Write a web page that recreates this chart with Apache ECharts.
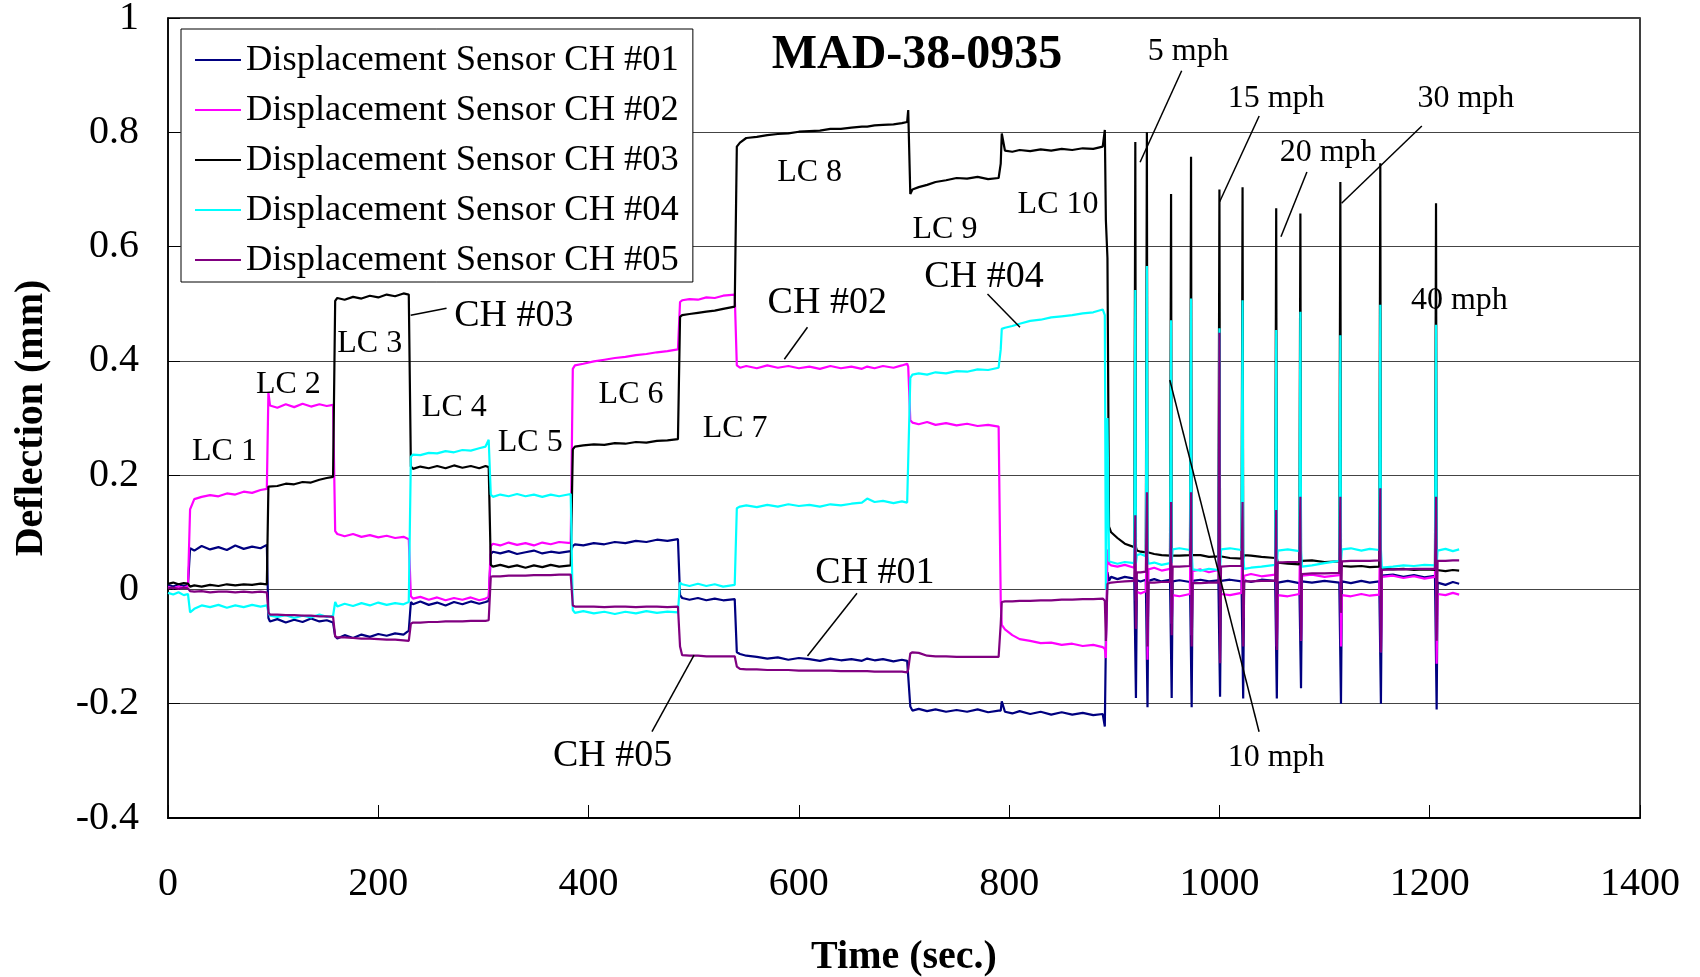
<!DOCTYPE html>
<html><head><meta charset="utf-8">
<script src="https://cdn.jsdelivr.net/npm/echarts@6/dist/echarts.min.js"></script>
<style>html,body{margin:0;padding:0;background:#fff}#c{width:1700px;height:977px}</style>
</head><body><div id="c"></div>
<script>
// ---------------- DATA ----------------
const time = [
 0,5,10,15,19,
 21,25,32,40,48,56,64,72,80,88,94,
 95.5,97,104,112,120,128,136,144,151,157,
 159,161,168,176,184,192,200,208,216,224,229,
 231,233,240,248,256,264,272,280,288,296,302,305,
 307,309,316,324,332,340,348,356,364,372,383,
 385,387,395,405,415,425,435,445,455,465,475,485,
 487,489,496,504,512,520,528,539,
 541,544,550,560,570,580,590,600,610,620,630,640,650,660,665,672,680,690,698,703,704,
 706,708,714,722,730,740,750,760,770,780,790,
 792,793,796,803,810,820,830,840,850,860,870,880,889,891,
 892,893.5,895,897,903,910,919,
 920,920.6,921.5,925,930,
 931,931.6,932.5,938,945,953,
 954,954.6,955.5,962,972,
 973,973.6,974.5,982,990,999,
 1000,1000.6,1001.5,1010,1021,
 1022,1022.6,1023.5,1030,1040,1053,
 1054,1054.6,1055.5,1065,1076,
 1077,1077.6,1078.5,1088,1100,1114,
 1115,1115.6,1116.5,1125,1135,1143,1152,
 1153,1153.6,1154.5,1165,1175,1185,1195,1205,
 1206,1206.6,1207.5,1215,1222,1228
];
const ch01 = [
 0.008,0.005,0.009,0.006,0.008,
 0.072,0.068,0.076,0.070,0.074,0.069,0.077,0.071,0.075,0.072,0.078,
 -0.050,-0.056,-0.052,-0.058,-0.053,-0.057,-0.051,-0.056,-0.054,-0.058,
 -0.082,-0.086,-0.080,-0.085,-0.079,-0.083,-0.078,-0.081,-0.077,-0.079,-0.072,
 -0.022,-0.026,-0.021,-0.027,-0.023,-0.028,-0.022,-0.026,-0.021,-0.025,-0.022,-0.020,
 0.062,0.066,0.063,0.067,0.062,0.065,0.068,0.063,0.066,0.064,0.067,
 0.076,0.079,0.077,0.081,0.079,0.083,0.081,0.085,0.083,0.087,0.085,0.088,
 -0.010,-0.015,-0.018,-0.015,-0.019,-0.016,-0.019,-0.017,
 -0.110,-0.113,-0.116,-0.118,-0.121,-0.119,-0.123,-0.120,-0.122,-0.125,-0.121,-0.124,-0.122,-0.125,-0.121,-0.124,-0.122,-0.126,-0.123,-0.125,-0.127,
 -0.205,-0.212,-0.209,-0.213,-0.210,-0.214,-0.211,-0.214,-0.210,-0.215,-0.212,
 -0.212,-0.196,-0.214,-0.217,-0.213,-0.218,-0.214,-0.219,-0.215,-0.219,-0.216,-0.220,-0.218,-0.240,
 -0.090,0.030,0.015,0.022,0.018,0.022,0.019,
 0.019,-0.190,0.016,0.014,0.017,
 0.017,-0.206,0.015,0.018,0.014,0.017,
 0.017,-0.190,0.014,0.016,0.013,
 0.013,-0.206,0.015,0.017,0.014,0.016,
 0.016,-0.188,0.015,0.017,0.014,
 0.014,-0.191,0.016,0.013,0.017,0.015,
 0.015,-0.191,0.012,0.015,0.011,
 0.011,-0.173,0.014,0.012,0.015,0.012,
 0.012,-0.200,0.014,0.011,0.015,0.012,0.014,
 0.014,-0.200,0.024,0.026,0.022,0.025,0.021,0.024,
 0.024,-0.210,0.012,0.008,0.013,0.010
];
const ch02 = [
 0.004,0.002,0.005,0.003,0.006,
 0.140,0.158,0.162,0.165,0.163,0.168,0.166,0.171,0.169,0.174,0.176,
 0.345,0.322,0.318,0.324,0.319,0.325,0.320,0.324,0.321,0.323,
 0.102,0.097,0.093,0.097,0.092,0.095,0.091,0.094,0.090,0.092,0.088,
 -0.012,-0.016,-0.013,-0.018,-0.014,-0.019,-0.015,-0.018,-0.014,-0.019,-0.016,-0.013,
 0.076,0.080,0.077,0.082,0.078,0.081,0.077,0.082,0.079,0.083,0.081,
 0.386,0.392,0.395,0.399,0.402,0.405,0.407,0.410,0.412,0.415,0.417,0.420,
 0.503,0.506,0.508,0.507,0.511,0.510,0.514,0.516,
 0.392,0.388,0.391,0.387,0.392,0.388,0.391,0.387,0.390,0.386,0.391,0.387,0.390,0.386,0.390,0.387,0.391,0.388,0.392,0.395,0.390,
 0.296,0.292,0.289,0.293,0.288,0.291,0.287,0.290,0.286,0.288,0.285,
 -0.020,-0.062,-0.070,-0.080,-0.087,-0.090,-0.094,-0.093,-0.097,-0.095,-0.099,-0.097,-0.101,-0.104,
 -0.120,0.070,0.045,0.042,0.040,0.043,0.038,
 0.113,-0.020,-0.004,-0.007,-0.003,
 0.120,-0.123,0.035,0.038,0.033,0.036,
 0.150,-0.060,-0.010,-0.012,-0.008,
 0.350,-0.080,0.032,0.035,0.030,0.034,
 0.120,-0.030,-0.008,-0.010,-0.006,
 0.120,-0.050,0.024,0.027,0.023,0.026,
 0.120,-0.100,-0.010,-0.012,-0.008,
 0.120,-0.090,0.024,0.026,0.022,0.025,
 0.120,-0.100,-0.010,-0.012,-0.008,-0.011,-0.009,
 0.130,-0.110,0.022,0.024,0.020,0.023,0.019,0.022,
 0.140,-0.130,-0.008,-0.010,-0.006,-0.009
];
const ch03 = [
 0.010,0.012,0.009,0.011,0.010,
 0.005,0.007,0.005,0.008,0.006,0.009,0.007,0.009,0.008,0.010,0.009,
 0.180,0.183,0.181,0.185,0.184,0.188,0.187,0.192,0.195,0.197,
 0.505,0.510,0.507,0.512,0.509,0.514,0.511,0.516,0.513,0.518,0.516,
 0.215,0.211,0.215,0.212,0.216,0.212,0.217,0.213,0.216,0.212,0.216,0.214,
 0.043,0.040,0.043,0.039,0.042,0.038,0.042,0.039,0.043,0.040,0.042,
 0.245,0.250,0.252,0.254,0.253,0.256,0.255,0.258,0.257,0.260,0.261,0.263,
 0.477,0.480,0.482,0.484,0.486,0.488,0.491,0.495,
 0.775,0.782,0.790,0.792,0.795,0.797,0.798,0.801,0.802,0.803,0.806,0.806,0.808,0.810,0.810,0.812,0.813,0.814,0.816,0.818,0.839,
 0.692,0.700,0.704,0.708,0.713,0.716,0.720,0.719,0.722,0.718,0.720,
 0.745,0.798,0.768,0.766,0.769,0.767,0.770,0.768,0.771,0.769,0.772,0.771,0.775,0.804,
 0.646,0.580,0.110,0.100,0.090,0.080,0.074,
 0.783,0.074,0.068,0.066,0.065,
 0.800,0.065,0.063,0.062,0.060,0.059,
 0.692,0.059,0.060,0.059,0.060,
 0.757,0.060,0.059,0.060,0.057,0.058,
 0.700,0.058,0.056,0.055,0.054,
 0.704,0.054,0.060,0.059,0.057,0.055,
 0.667,0.055,0.047,0.045,0.044,
 0.658,0.044,0.050,0.051,0.048,0.049,
 0.713,0.049,0.041,0.040,0.041,0.039,0.040,
 0.746,0.040,0.036,0.035,0.036,0.034,0.035,0.034,
 0.676,0.034,0.033,0.032,0.034,0.033
];
const ch04 = [
 -0.006,-0.009,-0.005,-0.010,-0.008,
 -0.040,-0.034,-0.028,-0.031,-0.027,-0.032,-0.028,-0.031,-0.027,-0.030,-0.028,
 -0.040,-0.046,-0.048,-0.045,-0.050,-0.046,-0.049,-0.044,-0.048,-0.046,
 -0.022,-0.030,-0.025,-0.029,-0.024,-0.028,-0.023,-0.027,-0.024,-0.026,-0.022,
 0.232,0.236,0.235,0.239,0.238,0.242,0.240,0.244,0.243,0.247,0.250,0.262,
 0.166,0.162,0.166,0.163,0.167,0.163,0.166,0.162,0.166,0.163,0.167,
 -0.036,-0.041,-0.038,-0.042,-0.039,-0.043,-0.039,-0.042,-0.038,-0.041,-0.039,-0.040,
 0.012,0.009,0.006,0.010,0.006,0.009,0.005,0.008,
 0.142,0.145,0.147,0.144,0.148,0.145,0.149,0.146,0.148,0.145,0.149,0.147,0.150,0.152,0.159,0.153,0.155,0.151,0.154,0.152,0.150,
 0.370,0.376,0.378,0.376,0.380,0.378,0.382,0.381,0.385,0.384,0.388,
 0.420,0.456,0.458,0.461,0.465,0.470,0.472,0.476,0.478,0.480,0.483,0.485,0.490,0.480,
 0.000,0.300,0.050,0.048,0.045,0.048,0.046,
 0.524,0.046,0.060,0.062,0.058,
 0.566,0.058,0.045,0.047,0.043,0.046,
 0.471,0.046,0.070,0.072,0.069,
 0.509,0.069,0.035,0.033,0.036,0.034,
 0.457,0.034,0.070,0.072,0.069,
 0.506,0.069,0.036,0.038,0.040,0.043,
 0.454,0.043,0.068,0.070,0.067,
 0.486,0.067,0.040,0.042,0.046,0.050,
 0.445,0.050,0.070,0.072,0.068,0.071,0.069,
 0.498,0.069,0.038,0.040,0.042,0.041,0.043,0.042,
 0.463,0.042,0.068,0.071,0.067,0.070
];
const ch05 = [
 0.002,0.003,0.001,0.003,0.002,
 -0.003,-0.004,-0.003,-0.005,-0.004,-0.004,-0.005,-0.004,-0.005,-0.004,-0.005,
 -0.040,-0.044,-0.044,-0.045,-0.045,-0.046,-0.046,-0.047,-0.047,-0.048,
 -0.082,-0.084,-0.084,-0.085,-0.086,-0.086,-0.087,-0.088,-0.088,-0.089,-0.090,
 -0.060,-0.058,-0.058,-0.057,-0.057,-0.056,-0.056,-0.056,-0.055,-0.055,-0.055,-0.054,
 0.022,0.023,0.023,0.024,0.024,0.024,0.025,0.025,0.025,0.026,0.026,
 -0.028,-0.030,-0.030,-0.030,-0.031,-0.030,-0.030,-0.031,-0.030,-0.030,-0.031,-0.030,
 -0.100,-0.115,-0.116,-0.116,-0.117,-0.117,-0.117,-0.117,
 -0.135,-0.139,-0.140,-0.140,-0.141,-0.141,-0.141,-0.142,-0.142,-0.142,-0.142,-0.143,-0.143,-0.143,-0.143,-0.144,-0.144,-0.144,-0.144,-0.145,-0.140,
 -0.112,-0.110,-0.111,-0.116,-0.117,-0.117,-0.118,-0.118,-0.118,-0.118,-0.118,
 -0.060,-0.022,-0.021,-0.021,-0.020,-0.020,-0.019,-0.019,-0.018,-0.018,-0.017,-0.017,-0.016,-0.020,
 -0.090,0.010,0.013,0.012,0.013,0.014,0.015,
 0.130,-0.069,0.030,0.030,0.031,
 0.170,-0.100,0.012,0.012,0.013,0.013,
 0.153,-0.080,0.040,0.040,0.041,
 0.170,-0.100,0.011,0.011,0.012,0.012,
 0.449,-0.129,0.040,0.041,0.041,
 0.153,-0.100,0.014,0.014,0.015,0.015,
 0.139,-0.106,0.047,0.048,0.048,
 0.162,-0.090,0.027,0.028,0.028,0.029,
 0.162,-0.041,0.049,0.050,0.050,0.050,0.051,
 0.177,-0.110,0.034,0.035,0.035,0.036,0.036,0.036,
 0.162,-0.090,0.050,0.050,0.051,0.051
];
const seriesNames = ['Displacement Sensor CH #01','Displacement Sensor CH #02','Displacement Sensor CH #03','Displacement Sensor CH #04','Displacement Sensor CH #05'];
const seriesValues = [ch01, ch02, ch03, ch04, ch05];
const xRange = [0, 1400, 200];
const yRange = [-0.4, 1, 0.2];

// annotation texts anchored in data coordinates [time, deflection]
const labelTexts = ['LC 1','LC 2','LC 3','LC 4','LC 5','LC 6','LC 7','LC 8','LC 9','LC 10',
  'CH #03','CH #02','CH #04','CH #01','CH #05',
  '5 mph','15 mph','20 mph','30 mph','40 mph','10 mph'];
const labelAnchors = [[53.7,0.242],[114.5,0.358],[191.9,0.430],[272.3,0.318],[344.5,0.257],[440.4,0.341],[539.4,0.282],[610.2,0.729],[739,0.630],[846.5,0.673],
  [329,0.479],[627,0.501],[776.1,0.547],[672.4,0.028],[422.9,-0.291],
  [970.4,0.942],[1053.9,0.859],[1103.4,0.764],[1234.4,0.859],[1228.2,0.506],[1053.9,-0.295]];
const leaderLines = [
  [230.8,0.480,264.9,0.492],
  [608.2,0.4587,586.2,0.4027],
  [779.4,0.517,810.3,0.4587],
  [655.3,-0.0068,608.2,-0.1165],
  [500.3,-0.1148,460.3,-0.249],
  [964.1,0.9078,924.5,0.7475],
  [1037.8,0.8285,1000.2,0.6785],
  [1083.2,0.7305,1058.5,0.6173],
  [1192.5,0.811,1116.2,0.6757],
  [952.8,0.3665,1037.7,-0.249]
];
const chartTitle = 'MAD-38-0935';

// ---------------- CHART ----------------
const FONT = "'Liberation Serif','Times New Roman',serif";
const colors = ['#000080','#FF00FF','#000000','#00FFFF','#800080'];
const chart = echarts.init(document.getElementById('c'), null, {renderer:'canvas'});

seriesValues.forEach((arr,i)=>{ if(arr.length!==time.length) console.error('len mismatch', i, arr.length, time.length); });

const option = {
  animation:false,
  backgroundColor:'#fff',
  color: colors,
  grid:{left:168,right:60,top:18,bottom:159,show:true,borderColor:'#000',borderWidth:1.5,backgroundColor:'transparent',containLabel:false,outerBoundsMode:'none'},
  legend:{
    orient:'vertical', left:181, top:29,
    backgroundColor:'#fff', borderColor:'#000', borderWidth:1,
    padding:[11,14,2,14], itemGap:10, itemWidth:46, itemHeight:2, icon:'rect',
    textStyle:{fontFamily:FONT,fontSize:36.5,color:'#000',lineHeight:40},
    data: seriesNames
  },
  xAxis:{
    type:'value', min:xRange[0], max:xRange[1], interval:xRange[2],
    name:'Time (sec.)', nameLocation:'middle', nameGap:120,
    nameTextStyle:{fontFamily:FONT,fontSize:40,fontWeight:'bold',color:'#000'},
    axisLine:{onZero:false,lineStyle:{color:'#000',width:2}},
    axisTick:{inside:true,length:13,lineStyle:{color:'#000',width:1}},
    axisLabel:{fontFamily:FONT,fontSize:40,color:'#000',margin:46,formatter:v=>String(v)},
    splitLine:{show:false}
  },
  yAxis:{
    type:'value', min:yRange[0], max:yRange[1], interval:yRange[2],
    name:'Deflection (mm)', nameLocation:'middle', nameGap:116,
    nameTextStyle:{fontFamily:FONT,fontSize:40,fontWeight:'bold',color:'#000'},
    axisLine:{show:true,onZero:false,lineStyle:{color:'#000',width:1.5}},
    axisTick:{show:true,inside:true,length:12,lineStyle:{color:'#000'}},
    axisLabel:{fontFamily:FONT,fontSize:40,color:'#000',margin:29},
    splitLine:{show:true,lineStyle:{color:'#444',width:1}}
  },
  series: seriesNames.map((name,i)=>({
    name, type:'line', showSymbol:false, symbol:'none', smooth:false,
    lineStyle:{color:colors[i],width:2.2},
    itemStyle:{color:colors[i]},
    data: time.map((t,k)=>[t, seriesValues[i][k]]),
    z: 2+i
  }))
};
chart.setOption(option);

function px(t,v){ return chart.convertToPixel({gridIndex:0},[t,v]); }
const graphics = [];
leaderLines.forEach(l=>{
  const a = px(l[0],l[1]), b = px(l[2],l[3]);
  graphics.push({type:'line',z:100,shape:{x1:a[0],y1:a[1],x2:b[0],y2:b[1]},style:{stroke:'#000',lineWidth:1.5}});
});
labelTexts.forEach((txt,i)=>{
  const p = px(labelAnchors[i][0], labelAnchors[i][1]);
  const size = txt.startsWith('CH') ? 38 : 32;
  graphics.push({type:'text',z:101,x:p[0],y:p[1],style:{text:txt,fontFamily:FONT,fontSize:size,fill:'#000',align:'center',verticalAlign:'middle'}});
});
const tp = px(712.4, 0.9335);
graphics.push({type:'text',z:101,x:tp[0],y:tp[1],style:{text:chartTitle,fontFamily:FONT,fontSize:48,fontWeight:'bold',fill:'#000',align:'center',verticalAlign:'middle'}});
chart.setOption({graphic:graphics});
</script></body></html>
